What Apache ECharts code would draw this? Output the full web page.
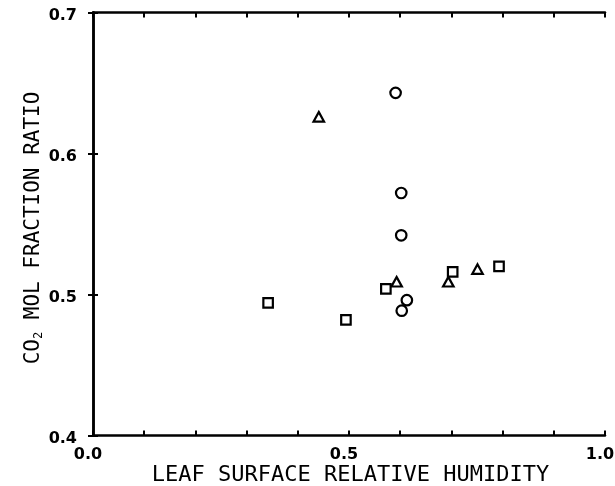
<!DOCTYPE html>
<html>
<head>
<meta charset="utf-8">
<script src="https://cdn.jsdelivr.net/npm/echarts@6/dist/echarts.min.js"></script>
<style>
  html, body { margin: 0; padding: 0; background: #fff; }
  #chart { width: 615px; height: 486px; }
</style>
</head>
<body>
<div id="chart"></div>
<script>
// Leaf surface relative humidity vs CO2 mol fraction ratio, three groups
const circlePoints = [
  [0.591, 0.643],
  [0.602, 0.572],
  [0.602, 0.542],
  [0.613, 0.496],
  [0.603, 0.4885]
];
const trianglePoints = [
  [0.441, 0.626],
  [0.593, 0.509],
  [0.694, 0.509],
  [0.751, 0.518]
];
const squarePoints = [
  [0.342, 0.494],
  [0.494, 0.482],
  [0.572, 0.504],
  [0.7025, 0.516],
  [0.793, 0.520]
];
const xLabelValues = [0.0, 0.5, 1.0];
const yLabelValues = [0.4, 0.5, 0.6, 0.7];

const TITLE_FONT = 'DejaVu Sans Mono';
const TICK_FONT = 'DejaVu Sans';
const INK = '#000';

function near(v, list) {
  return list.some(t => Math.abs(t - v) < 1e-6);
}

const frameLine = { show: true, lineStyle: { color: INK, width: 2.5 } };
const innerTick = { show: true, inside: true, length: 5, lineStyle: { color: INK, width: 2 } };
const tickText = { color: INK, fontFamily: TICK_FONT, fontSize: 16, fontWeight: 'bold' };

function pointSeries(data, symbol, size) {
  return {
    type: 'scatter',
    data: data,
    symbol: symbol,
    symbolSize: size,
    itemStyle: { color: '#fff', borderColor: INK, borderWidth: 2.2, opacity: 1 },
    emphasis: { disabled: true },
    z: 5
  };
}

const chart = echarts.init(document.getElementById('chart'), null, { renderer: 'canvas' });
chart.setOption({
  backgroundColor: '#fff',
  animation: false,
  grid: { left: 93, right: 10, top: 12.5, bottom: 50.5, outerBoundsMode: 'none' },
  xAxis: [
    {
      type: 'value', position: 'bottom', min: 0, max: 1, interval: 0.1,
      axisLine: frameLine, axisTick: innerTick, splitLine: { show: false },
      axisLabel: Object.assign({}, tickText, {
        margin: 11, padding: [0, 10, 0, 0],
        formatter: v => near(v, xLabelValues) ? v.toFixed(1) : ''
      }),
      name: 'LEAF SURFACE RELATIVE HUMIDITY',
      nameLocation: 'middle', nameGap: 29, nameMoveOverlap: false,
      nameTextStyle: { color: INK, fontFamily: TITLE_FONT, fontSize: 22, padding: [0, 0, 0, 3] }
    },
    {
      type: 'value', position: 'top', min: 0, max: 1, interval: 0.1,
      axisLine: frameLine, axisTick: innerTick, axisLabel: { show: false }, splitLine: { show: false }
    }
  ],
  yAxis: [
    {
      type: 'value', position: 'left', min: 0.4, max: 0.7, interval: 0.1,
      axisLine: frameLine, axisTick: innerTick, splitLine: { show: false },
      axisLabel: {
        margin: 16,
        formatter: v => near(v, yLabelValues) ? '{t|' + v.toFixed(1) + '}' : '',
        rich: { t: Object.assign({}, tickText, { padding: [7, 0, 0, 0] }) }
      },
      name: 'CO{s|2} MOL FRACTION RATIO',
      nameLocation: 'middle', nameGap: 48, nameRotate: 90, nameMoveOverlap: false,
      nameTextStyle: {
        color: INK, fontFamily: TITLE_FONT, fontSize: 21, padding: [0, 8, 0, 0],
        rich: { s: { fontFamily: TITLE_FONT, fontSize: 12, color: INK, padding: [10, 0, 0, 0] } }
      }
    },
    {
      type: 'value', position: 'right', min: 0.4, max: 0.7, interval: 0.1,
      axisLine: frameLine, axisTick: innerTick, axisLabel: { show: false }, splitLine: { show: false }
    }
  ],
  series: [
    pointSeries(circlePoints, 'circle', 10.5),
    pointSeries(trianglePoints, 'triangle', [10.5, 9.5]),
    pointSeries(squarePoints, 'rect', 9.5)
  ]
});
</script>
</body>
</html>
